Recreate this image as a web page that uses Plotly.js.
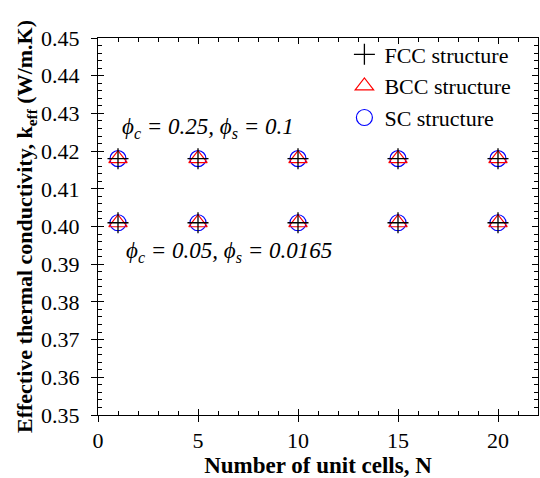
<!DOCTYPE html>
<html>
<head>
<meta charset="utf-8">
<script src="https://cdn.plot.ly/plotly-3.0.1.min.js"></script>
<style>html,body{margin:0;padding:0;background:#fff;}#chart{width:540px;height:478px;}</style>
</head>
<body>
<div id="chart"></div>
<script>
const N = [1, 5, 10, 15, 20];
const fccHigh = [0.418, 0.418, 0.418, 0.418, 0.418];
const bccHigh = [0.418, 0.418, 0.418, 0.418, 0.418];
const scHigh  = [0.418, 0.418, 0.418, 0.418, 0.418];
const fccLow  = [0.401, 0.401, 0.401, 0.401, 0.401];
const bccLow  = [0.401, 0.401, 0.401, 0.401, 0.401];
const scLow   = [0.401, 0.401, 0.401, 0.401, 0.401];
const seriesNames = ["FCC structure", "BCC structure", "SC structure"];
const xTicks = [0, 5, 10, 15, 20];
const yTicks = [0.35, 0.36, 0.37, 0.38, 0.39, 0.40, 0.41, 0.42, 0.43, 0.44, 0.45];
const yTickText = ["0.35","0.36","0.37","0.38","0.39","0.40","0.41","0.42","0.43","0.44","0.45"];

const font = "Liberation Serif, Times New Roman, serif";
const xr = [0, 22], yr = [0.35, 0.45];

const traces = [
  {x: N.concat([null], N), y: scHigh.concat([null], scLow), name: seriesNames[2], mode: "markers", type: "scatter",
   marker: {symbol: "circle-open", size: 16, color: "#0000ff", line: {width: 1.2, color: "#0000ff"}}, legendrank: 3},
  {x: N.concat([null], N), y: bccHigh.concat([null], bccLow), name: seriesNames[1], mode: "markers", type: "scatter",
   marker: {symbol: "triangle-up-open", size: 16, color: "#ff0000", line: {width: 1.2, color: "#ff0000"}}, legendrank: 2},
  {x: N.concat([null], N), y: fccHigh.concat([null], fccLow), name: seriesNames[0], mode: "markers", type: "scatter",
   marker: {symbol: "cross-thin-open", size: 15, color: "#000000", line: {width: 1.3, color: "#000000"}}, legendrank: 1},
  {x: [null], y: [null], xaxis: "x2", yaxis: "y2", showlegend: false, hoverinfo: "skip", type: "scatter", mode: "markers"}
];

const layout = {
  width: 540, height: 478,
  margin: {l: 98, r: 2, t: 38, b: 63},
  paper_bgcolor: "#fff", plot_bgcolor: "#fff",
  font: {family: font, size: 22, color: "#000"},
  showlegend: true,
  legend: {x: 0.56, y: 1.012, xanchor: "left", yanchor: "top", bgcolor: "rgba(0,0,0,0)",
           font: {family: font, size: 22, color: "#000"}, itemwidth: 30, tracegroupgap: 0},
  xaxis: {range: xr, tickvals: xTicks, ticks: "outside", ticklen: 6, tickwidth: 1, tickcolor: "#000",
          showline: true, linecolor: "#000", linewidth: 1, zeroline: false, showgrid: false,
          tickfont: {family: font, size: 22}, ticklabelstandoff: 0,
          title: {text: "<b>Number of unit cells, N</b>", font: {family: font, size: 23}, standoff: 2}},
  yaxis: {range: yr, tickvals: yTicks, ticktext: yTickText, ticks: "outside", ticklen: 6, tickwidth: 1, tickcolor: "#000",
          showline: true, linecolor: "#000", linewidth: 1, zeroline: false, showgrid: false,
          tickfont: {family: font, size: 22}, ticklabelstandoff: 7,
          title: {text: "<b>Effective thermal conductivity, k<sub>eff</sub> (W/m.K)</b>", font: {family: font, size: 22}, standoff: 2}},
  xaxis2: {range: xr, overlaying: "x", anchor: "y2", side: "bottom", tickvals: xTicks, ticks: "inside", ticklen: 6,
           tickwidth: 1, tickcolor: "#000", mirror: "allticks", showline: true, linecolor: "#000", linewidth: 1,
           showticklabels: false, zeroline: false, showgrid: false,
           minor: {dtick: 1, ticks: "inside", ticklen: 4, tickcolor: "#000", tickwidth: 1, showgrid: false}},
  yaxis2: {range: yr, overlaying: "y", anchor: "x2", side: "left", tickvals: yTicks, ticks: "inside", ticklen: 6,
           tickwidth: 1, tickcolor: "#000", mirror: "allticks", showline: true, linecolor: "#000", linewidth: 1,
           showticklabels: false, zeroline: false, showgrid: false,
           minor: {dtick: 0.002, ticks: "inside", ticklen: 4, tickcolor: "#000", tickwidth: 1, showgrid: false}},
  annotations: [
    {x: 0.25, y: 0.761, xref: "paper", yref: "paper", showarrow: false, xanchor: "center", yanchor: "middle",
     text: "<i>ϕ<sub>c</sub> = 0.25, ϕ<sub>s</sub> = 0.1</i>", font: {family: font, size: 23, color: "#000"}},
    {x: 0.298, y: 0.432, xref: "paper", yref: "paper", showarrow: false, xanchor: "center", yanchor: "middle",
     text: "<i>ϕ<sub>c</sub> = 0.05, ϕ<sub>s</sub> = 0.0165</i>", font: {family: font, size: 23, color: "#000"}}
  ]
};

Plotly.newPlot("chart", traces, layout, {displayModeBar: false, staticPlot: true});
</script>
</body>
</html>
